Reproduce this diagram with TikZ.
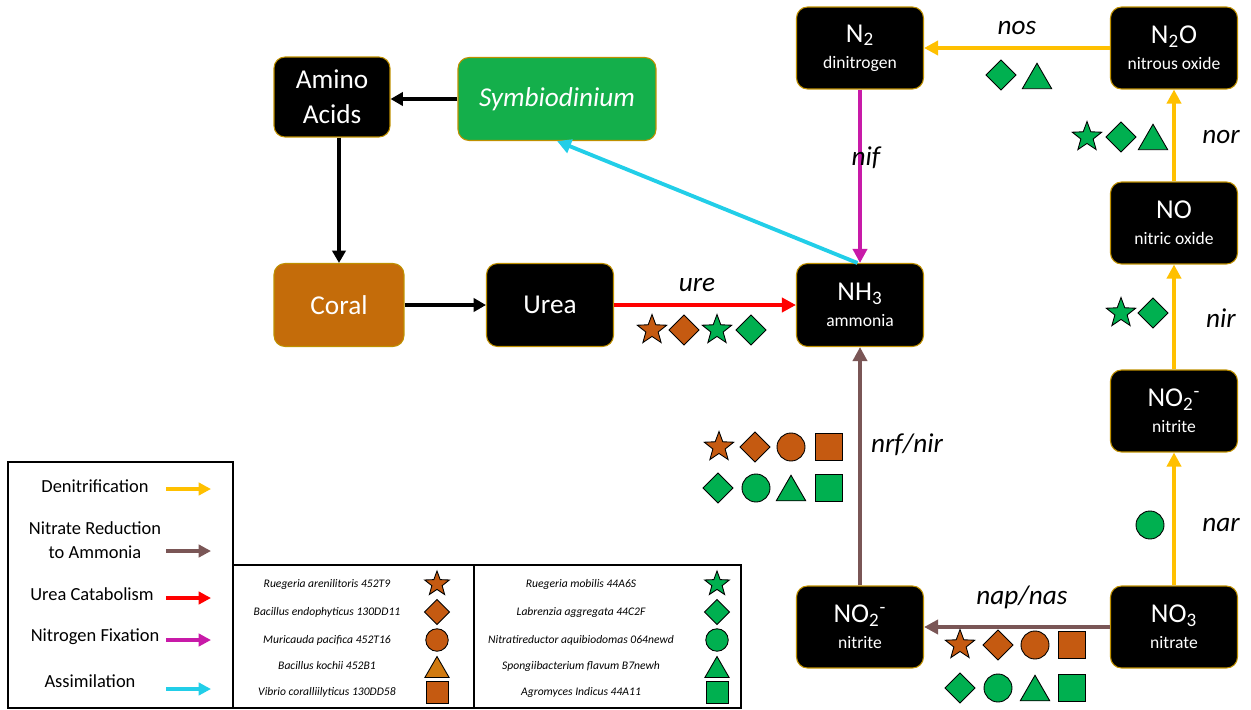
\documentclass[tikz,border=0pt]{standalone}
\usepackage{fontspec}
\setmainfont{Carlito}
\usetikzlibrary{shapes.geometric,arrows.meta}
\definecolor{orng}{HTML}{C55A11}
\definecolor{orngt}{HTML}{D17A10}
\definecolor{coralc}{HTML}{C46C0A}
\definecolor{grn}{HTML}{00B050}
\definecolor{symb}{HTML}{14AF4B}
\definecolor{yel}{HTML}{FFC000}
\definecolor{brn}{HTML}{7A5656}
\definecolor{redc}{HTML}{FF0000}
\definecolor{magc}{HTML}{C81AA8}
\definecolor{cyanc}{HTML}{22CEE8}
\definecolor{boxedge}{HTML}{BF9000}
\newcommand\mainl[1]{{\fontsize{15.5}{18}\selectfont #1}}
\begin{document}
\begin{tikzpicture}[x=0.02cm,y=-0.02cm,
  box/.style={draw=boxedge, line width=0.6pt, fill=black, rounded corners=0.22cm,
    text=white, align=center, minimum width=2.54cm, minimum height=1.64cm, inner sep=0,
    font=\fontsize{10}{12}\selectfont},
  arr/.style={line width=2.2pt, -{Triangle[length=8pt,width=8pt]}},
  blk/.style={line width=2.2pt, black, -{Triangle[length=7pt,width=7.5pt]}},
  legarr/.style={line width=2.8pt, -{Triangle[length=7pt,width=7pt]}},
  lab/.style={font=\fontsize{15.5}{18}\selectfont\itshape},
  shp/.style={draw=black, line width=0.5pt, inner sep=0, outer sep=0},
  ostar/.style={shp, star, star points=5, star point ratio=2.4, fill=orng, minimum size=0.62cm},
  gstar/.style={ostar, fill=grn},
  odia/.style={shp, diamond, fill=orng, minimum size=0.6cm},
  gdia/.style={odia, fill=grn},
  ocirc/.style={shp, circle, fill=orng, minimum size=0.56cm},
  gcirc/.style={ocirc, fill=grn},
  osq/.style={shp, rectangle, fill=orng, minimum size=0.54cm},
  gsq/.style={osq, fill=grn},
  otri/.style={shp, regular polygon, regular polygon sides=3, fill=orngt, minimum size=0.68cm, yshift=-0.085cm},
  gtri/.style={otri, fill=grn},
  spec/.style={font=\fontsize{6.6}{8}\selectfont\itshape},
  legt/.style={font=\fontsize{10.5}{14}\selectfont, align=center}
]
\useasboundingbox (0,0) rectangle (1251,710);

% boxes
\node[box, minimum width=2.32cm, minimum height=1.6cm, font=\fontsize{15.5}{20}\selectfont] (amino) at (332,97) {Amino\\Acids};
\node[box, fill=symb, minimum width=3.96cm, minimum height=1.66cm, font=\fontsize{15.5}{18}\selectfont\itshape] (symb) at (557,99) {Symbiodinium};
\node[box, fill=coralc, minimum width=2.6cm, minimum height=1.66cm, font=\fontsize{15.5}{18}\selectfont] (coral) at (339,305) {Coral};
\node[box, minimum height=1.66cm, font=\fontsize{15.5}{18}\selectfont] (urea) at (550,305) {Urea};
\node[box, minimum height=1.66cm] (nh3) at (860,305) {\mainl{NH\textsubscript{3}}\\[3pt]ammonia};
\node[box] (n2) at (860,48) {\mainl{N\textsubscript{2}}\\[3pt]dinitrogen};
\node[box] (n2o) at (1174,48) {\mainl{N\textsubscript{2}O}\\[3pt]nitrous oxide};
\node[box] (no) at (1174,223) {\mainl{NO}\\[3pt]nitric oxide};
\node[box] (no2r) at (1174,411) {\mainl{NO\textsubscript{2}\textsuperscript{-}}\\[3pt]nitrite};
\node[box] (no3) at (1174,627) {\mainl{NO\textsubscript{3}}\\[3pt]nitrate};
\node[box] (no2b) at (860,627) {\mainl{NO\textsubscript{2}\textsuperscript{-}}\\[3pt]nitrite};

% connectors
\draw[blk] (symb.west) -- (symb.west -| amino.east);
\draw[blk] (coral.north |- amino.south) -- (coral.north);
\draw[blk] (coral.east) -- (urea.west);
\draw[arr, redc] (urea.east) -- (nh3.west);
\draw[arr, cyanc] ([xshift=-0.05cm]nh3.north) -- (symb.south);
\draw[arr, magc] (n2.south) -- (nh3.north);
\draw[arr, yel] (n2o.west) -- (n2.east);
\draw[arr, yel] (no.north) -- (n2o.south);
\draw[arr, yel] (no2r.north) -- (no.south);
\draw[arr, yel] (no3.north) -- (no2r.south);
\draw[arr, brn] (no3.west) -- (no2b.east);
\draw[arr, brn] (no2b.north) -- (nh3.south);

% labels
\node[lab] (lure) at (697,285) {ure};
\node[lab] (lnif) at (866,158) {nif};
\node[lab] (lnos) at (1017,28) {nos};
\node[lab] (lnor) at (1221,137) {nor};
\node[lab] (lnir) at (1221,318) {nir};
\node[lab] (lnar) at (1221,525) {nar};
\node[lab] (lnap) at (1022,597) {nap/nas};
\node[lab] (lnrf) at (907,445) {nrf/nir};

% species markers
\node[ostar] (u1) at (652,330) {};
\node[odia] (u2) at (684,330) {};
\node[gstar] (u3) at (717,330) {};
\node[gdia] (u4) at (751,330) {};
\node[gdia] (s1) at (1001,75) {};
\node[gtri] (s2) at (1037,76) {};
\node[gstar] (r1) at (1087,137) {};
\node[gdia] (r2) at (1121,137) {};
\node[gtri] (r3) at (1153,137) {};
\node[gstar] (i1) at (1121,313) {};
\node[gdia] (i2) at (1153,313) {};
\node[gcirc] (a1) at (1150,525) {};
\node[ostar] (f1) at (719,447) {};
\node[odia] (f2) at (755,447) {};
\node[ocirc] (f3) at (791,447) {};
\node[osq] (f4) at (829,447) {};
\node[gdia] (f5) at (718,488) {};
\node[gcirc] (f6) at (756,488) {};
\node[gtri] (f7) at (791,488) {};
\node[gsq] (f8) at (829,488) {};
\node[ostar] (p1) at (960,645) {};
\node[odia] (p2) at (998,645) {};
\node[ocirc] (p3) at (1035,645) {};
\node[osq] (p4) at (1072,645) {};
\node[gdia] (p5) at (960,688) {};
\node[gcirc] (p6) at (998,688) {};
\node[gtri] (p7) at (1035,688) {};
\node[gsq] (p8) at (1072,688) {};

% pathway legend
\draw[line width=0.6pt] (8,462) rectangle (233,708);
\node[legt] (t1) at (95,486) {Denitrification};
\node[legt] (t2) at (95,540) {Nitrate Reduction\\to Ammonia};
\node[legt] (t3) at (92,594) {Urea Catabolism};
\node[legt] (t4) at (95,637) {Nitrogen Fixation};
\node[legt] (t5) at (90,681) {Assimilation};
\coordinate (e1a) at (166,489); \coordinate (e1b) at (211,489);
\coordinate (e2a) at (166,551); \coordinate (e2b) at (211,551);
\coordinate (e3a) at (166,598); \coordinate (e3b) at (211,598);
\coordinate (e4a) at (166,640); \coordinate (e4b) at (211,640);
\coordinate (e5a) at (166,689); \coordinate (e5b) at (211,689);
\draw[legarr, yel] (e1a) -- (e1b);
\draw[legarr, brn] (e2a) -- (e2b);
\draw[legarr, redc] (e3a) -- (e3b);
\draw[legarr, magc] (e4a) -- (e4b);
\draw[legarr, cyanc] (e5a) -- (e5b);

% species legend
\draw[line width=0.6pt] (233,565) rectangle (741,708);
\draw[line width=0.6pt] (474,565) -- (474,708);
\node[spec] (k1) at (327,584) {Ruegeria arenilitoris 452T9};
\node[spec] (k2) at (327,612) {Bacillus endophyticus 130DD11};
\node[spec] (k3) at (327,640) {Muricauda pacifica 452T16};
\node[spec] (k4) at (327,666) {Bacillus kochii 452B1};
\node[spec] (k5) at (327,692) {Vibrio coralliilyticus 130DD58};
\node[spec] (k6) at (581,584) {Ruegeria mobilis 44A6S};
\node[spec] (k7) at (581,612) {Labrenzia aggregata 44C2F};
\node[spec] (k8) at (581,640) {Nitratireductor aquibiodomas 064newd};
\node[spec] (k9) at (581,666) {Spongiibacterium flavum B7newh};
\node[spec] (k10) at (581,692) {Agromyces Indicus 44A11};
\node[ostar, minimum size=0.52cm] (m1) at (437,584) {};
\node[odia, minimum size=0.5cm] (m2) at (437,612) {};
\node[ocirc, minimum size=0.45cm] (m3) at (437,640) {};
\node[otri, minimum size=0.56cm, yshift=0.015cm] (m4) at (437,667) {};
\node[osq, minimum size=0.44cm] (m5) at (437,692) {};
\node[gstar, minimum size=0.52cm] (m6) at (717,584) {};
\node[gdia, minimum size=0.5cm] (m7) at (717,612) {};
\node[gcirc, minimum size=0.45cm] (m8) at (717,640) {};
\node[gtri, minimum size=0.56cm, yshift=0.015cm] (m9) at (717,667) {};
\node[gsq, minimum size=0.44cm] (m10) at (717,692) {};
\end{tikzpicture}
\end{document}
